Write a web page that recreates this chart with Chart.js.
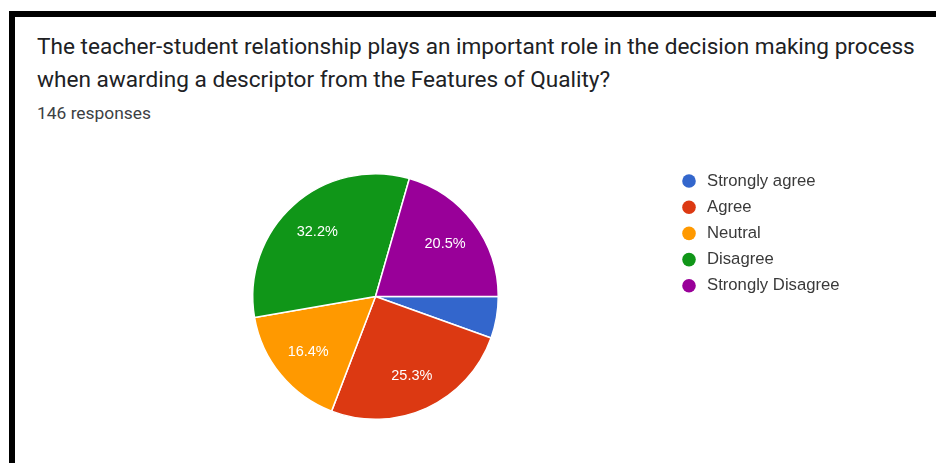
<!DOCTYPE html>
<html>
<head>
<meta charset="utf-8">
<script src="https://cdn.jsdelivr.net/npm/chart.js@4.4.0/dist/chart.umd.min.js"></script>
<style>
  html, body { margin: 0; padding: 0; background: #fff; }
  body { width: 936px; height: 463px; position: relative; overflow: hidden; }
  .frame {
    position: absolute; left: 9px; top: 11px; right: 0; bottom: 0;
    border-top: 6px solid #000; border-left: 6px solid #000;
  }
  .question {
    position: absolute; left: 37px; top: 31px; white-space: nowrap;
    font-family: Roboto, "Noto Sans", sans-serif; font-size: 22.6px;
    line-height: 32.5px; color: #202124;
  }
  .count {
    position: absolute; left: 37px; top: 103px;
    font-family: Roboto, "Noto Sans", sans-serif; font-size: 17.4px; color: #3c4043;
  }
  #chart { position: absolute; left: 0; top: 150px; }
</style>
</head>
<body>
<div class="frame"></div>
<div class="question">The teacher-student relationship plays an important role in the decision making process<br>when awarding a descriptor from the Features of Quality?</div>
<div class="count">146 responses</div>
<canvas id="chart" width="936" height="313"></canvas>

<script>
const answers = ['Strongly agree', 'Agree', 'Neutral', 'Disagree', 'Strongly Disagree'];
const responses = [8, 37, 24, 47, 30];
const sliceColors = ['#3366cc', '#dc3912', '#ff9900', '#109618', '#990099'];

const totalResponses = responses.reduce((a, b) => a + b, 0);

// percentage text inside each slice, skipped for thin slices
const sliceLabels = {
    id: 'sliceLabels',
    afterDatasetsDraw(chart) {
        const { ctx } = chart;
        const meta = chart.getDatasetMeta(0);
        ctx.save();
        ctx.font = '14.5px "Liberation Sans", Arial, sans-serif';
        ctx.fillStyle = '#fff';
        ctx.textAlign = 'center';
        ctx.textBaseline = 'middle';
        meta.data.forEach((arc, i) => {
            const pct = responses[i] / totalResponses * 100;
            if (pct < 8) return;
            const { x, y, startAngle, endAngle, outerRadius } = arc.getProps(['x', 'y', 'startAngle', 'endAngle', 'outerRadius'], true);
            const mid = (startAngle + endAngle) / 2;
            const r = outerRadius * 0.71;
            ctx.fillText(pct.toFixed(1) + '%', x + Math.cos(mid) * r, y + Math.sin(mid) * r);
        });
        ctx.restore();
    }
};

// legend column with round markers to the right of the pie
const dotLegend = {
    id: 'dotLegend',
    afterDraw(chart, args, opts) {
        const { ctx } = chart;
        ctx.save();
        ctx.font = opts.font;
        ctx.textBaseline = 'middle';
        chart.data.labels.forEach((label, i) => {
            const y = opts.top + i * opts.step;
            ctx.beginPath();
            ctx.arc(opts.left, y, opts.radius, 0, Math.PI * 2);
            ctx.fillStyle = chart.data.datasets[0].backgroundColor[i];
            ctx.fill();
            ctx.fillStyle = opts.color;
            ctx.fillText(label, opts.left + 18, y);
        });
        ctx.restore();
    }
};

new Chart(document.getElementById('chart'), {
    type: 'pie',
    data: {
        labels: answers,
        datasets: [{
            data: responses,
            backgroundColor: sliceColors,
            borderColor: '#fff',
            borderWidth: 1.5
        }]
    },
    options: {
        responsive: false,
        animation: false,
        rotation: 90,
        layout: {
            padding: { left: 252, right: 437, top: 23, bottom: 43 }
        },
        plugins: {
            legend: { display: false },
            tooltip: { enabled: false },
            dotLegend: {
                left: 689,
                top: 31,
                step: 26.2,
                radius: 6.8,
                font: '16.7px "Liberation Sans", Arial, sans-serif',
                color: '#3a3a3a'
            }
        }
    },
    plugins: [sliceLabels, dotLegend]
});
</script>
</body>
</html>
